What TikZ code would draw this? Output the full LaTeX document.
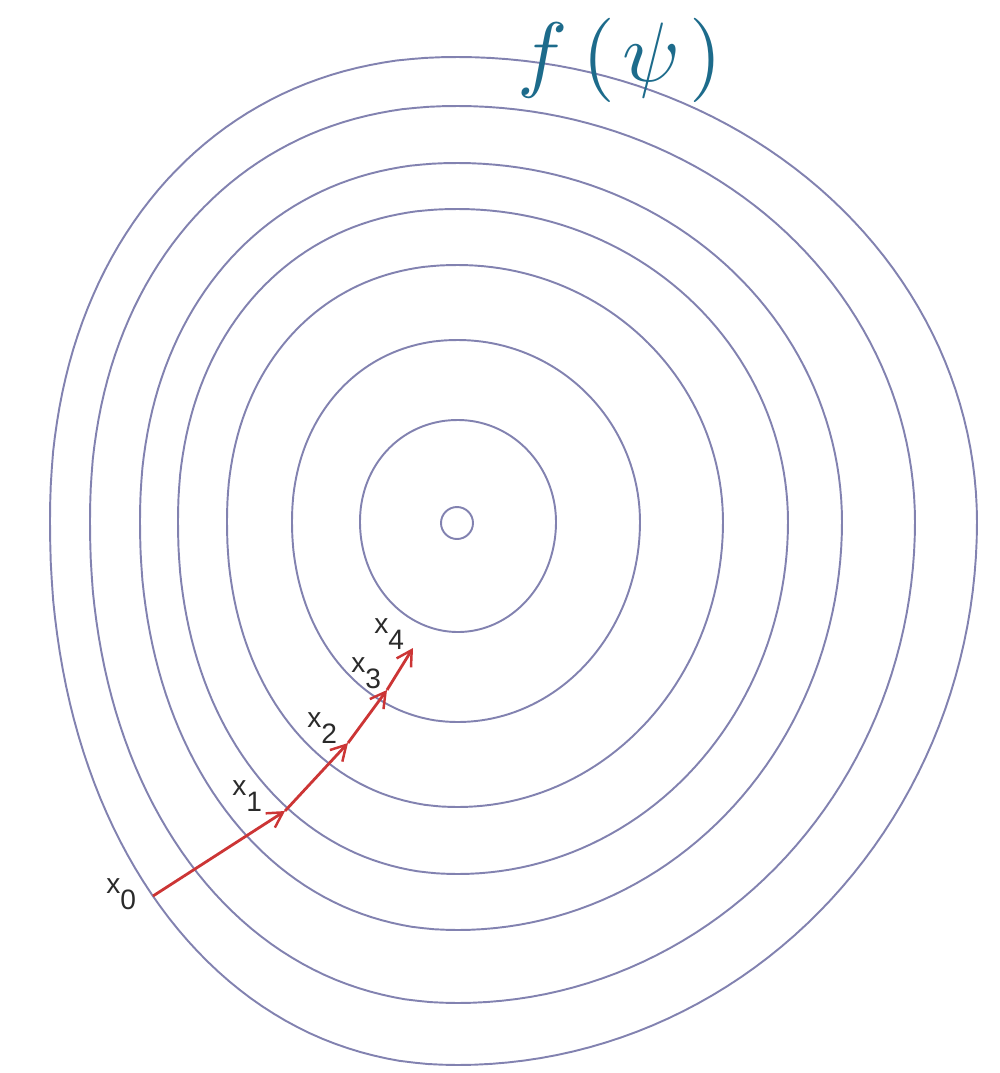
\documentclass[tikz,border=0pt]{standalone}
\usepackage{fontspec}
\newfontfamily\labfont{Liberation Sans}
\usetikzlibrary{arrows.meta}
\definecolor{contourc}{HTML}{8282B0}
\definecolor{pathred}{HTML}{CC3535}
\definecolor{titlec}{HTML}{1D6B8B}
\definecolor{labc}{HTML}{2A2A2A}
\newcommand{\lowsub}[1]{\raisebox{-0.32cm}{#1}}
% cx cy aRight bTop aLeft bBottom nUpperLeft nLowerLeft
\newcommand{\levelring}[8]{%
 \draw[contour] plot[domain=0:90,samples=50] ({#1+#3*cos(\x)},{#2-#4*sin(\x)})
  -- plot[domain=90:180,samples=50] ({#1-#5*pow(max(abs(cos(\x)),0.0001),2/#7)},{#2-#4*pow(max(abs(sin(\x)),0.0001),2/#7)})
  -- plot[domain=180:270,samples=50] ({#1-#5*pow(max(abs(cos(\x)),0.0001),2/#8)},{#2+#6*pow(max(abs(sin(\x)),0.0001),2/#8)})
  -- plot[domain=270:360,samples=50] ({#1+#3*cos(\x)},{#2-#6*sin(\x)}) -- cycle;}
\begin{document}
\begin{tikzpicture}[x=0.02cm,y=-0.02cm,
  contour/.style={draw=contourc,line width=1.1pt,line join=round},
  gdstep/.style={draw=pathred,line width=1.6pt,-{Straight Barb[length=3mm,width=3.4mm,line width=1.4pt]}},
  lab/.style={font=\labfont\fontsize{16}{18}\selectfont,text=labc,inner sep=0pt,anchor=base west},
  titlelab/.style={text=titlec,scale=4.8,inner sep=0pt,anchor=base}]
\useasboundingbox (0,0) rectangle (1000,1073);
% level sets
\draw[contour] (457,523) circle[radius=16];
\levelring{458}{522}{98}{102}{98}{110}{2.05}{2}
\levelring{458}{522}{182}{182}{166}{200}{2.1}{2.05}
\levelring{458}{522}{265}{257}{231}{285}{2.15}{2.1}
\levelring{458}{522}{330}{313}{280}{352}{2.15}{2.1}
\levelring{458}{522}{384}{359}{318}{408}{2.15}{2.1}
\levelring{458}{522}{457}{416}{368}{481}{2.15}{2.1}
\levelring{458}{522}{519}{465}{408}{543}{2.15}{2.1}
% iterates
\coordinate (p0) at (153,896);
\coordinate (p1) at (285,811);
\coordinate (p2) at (348,743);
\coordinate (p3) at (387,690);
\coordinate (p4) at (413,648);
\draw[gdstep] (p0) -- (p1);
\draw[gdstep] (p1) -- (p2);
\draw[gdstep] (p2) -- (p3);
\draw[gdstep] (p3) -- (p4);
\node[lab] (x0) at (106,893) {x\lowsub{0}};
\node[lab] (x1) at (232,795) {x\lowsub{1}};
\node[lab] (x2) at (307,727) {x\lowsub{2}};
\node[lab] (x3) at (351,672) {x\lowsub{3}};
\node[lab] (x4) at (374,633) {x\lowsub{4}};
% title
\node[titlelab] (fpsi) at (620,81) {$f\mkern3mu(\mkern1.5mu\psi\mkern2mu)$};
\end{tikzpicture}
\end{document}
